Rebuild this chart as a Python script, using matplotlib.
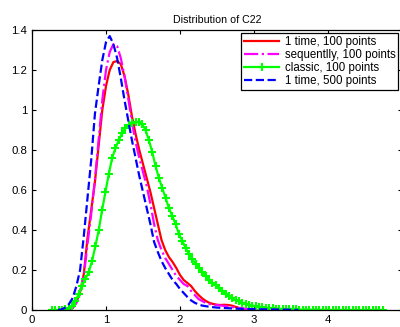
import numpy as np
import matplotlib
matplotlib.use("Agg")
import matplotlib.pyplot as plt

plt.rcParams['font.family'] = ['Liberation Sans', 'DejaVu Sans']

# 1 time, 100 points (red)
red_x = [0.50, 0.55, 0.60, 0.65, 0.70, 0.75, 0.80, 0.85, 0.90, 0.95, 1.00,
         1.05, 1.10, 1.15, 1.20, 1.25, 1.30, 1.35, 1.40, 1.45, 1.50, 1.55,
         1.60, 1.65, 1.70, 1.75, 1.80, 1.85, 1.90, 1.95, 2.00, 2.05, 2.10,
         2.15, 2.20, 2.25, 2.30, 2.35, 2.40, 2.45, 2.50, 2.55, 2.60, 2.65,
         2.70, 2.75, 2.80, 2.85, 2.90, 2.95, 3.00]
red_y = [0.0, 0.01, 0.04, 0.09, 0.18, 0.36, 0.50, 0.64, 0.82, 1.00, 1.12,
         1.20, 1.24, 1.245, 1.23, 1.17, 1.08, 0.97, 0.88, 0.80, 0.73, 0.66,
         0.59, 0.51, 0.43, 0.35, 0.30, 0.265, 0.24, 0.21, 0.175, 0.15, 0.135,
         0.12, 0.095, 0.075, 0.058, 0.045, 0.035, 0.03, 0.026, 0.025, 0.026, 0.025,
         0.022, 0.016, 0.01, 0.006, 0.003, 0.001, 0.0]

# sequentlly, 100 points (magenta)
mag_x = [0.50, 0.55, 0.60, 0.65, 0.70, 0.75, 0.80, 0.85, 0.90, 0.95, 1.00,
         1.05, 1.10, 1.15, 1.20, 1.25, 1.30, 1.35, 1.40, 1.45, 1.50, 1.55,
         1.60, 1.65, 1.70, 1.75, 1.80, 1.85, 1.90, 1.95, 2.00, 2.05, 2.10,
         2.15, 2.20, 2.25, 2.30, 2.35, 2.40, 2.50, 2.60, 2.70, 2.80, 2.90,
         3.00, 3.10]
mag_y = [0.0, 0.01, 0.035, 0.08, 0.17, 0.33, 0.48, 0.65, 0.85, 1.05, 1.20,
         1.29, 1.33, 1.32, 1.26, 1.17, 1.06, 0.94, 0.84, 0.76, 0.69, 0.62,
         0.53, 0.43, 0.35, 0.30, 0.26, 0.23, 0.20, 0.17, 0.15, 0.13, 0.12,
         0.095, 0.075, 0.055, 0.045, 0.035, 0.03, 0.025, 0.02, 0.015, 0.01, 0.005,
         0.002, 0.0]

# classic, 100 points (green, markers)
green_x = np.linspace(0.27, 4.74, 100)
green_y = [0.0, 0.0, 0.0, 0.001, 0.003, 0.008, 0.02, 0.045, 0.08, 0.12,
           0.155, 0.19, 0.245, 0.32, 0.40, 0.50, 0.59, 0.68, 0.76, 0.81,
           0.85, 0.885, 0.91, 0.925, 0.935, 0.94, 0.94, 0.93, 0.90, 0.85,
           0.79, 0.72, 0.66, 0.61, 0.56, 0.51, 0.47, 0.43, 0.38, 0.345,
           0.31, 0.28, 0.255, 0.23, 0.21, 0.19, 0.17, 0.15, 0.135, 0.125,
           0.11, 0.095, 0.082, 0.07, 0.06, 0.051, 0.044, 0.037, 0.031, 0.026,
           0.022, 0.018, 0.015, 0.013, 0.011, 0.009, 0.008, 0.007, 0.006, 0.005,
           0.004, 0.004, 0.003, 0.003, 0.002, 0.002, 0.002, 0.001, 0.001, 0.001,
           0.001, 0.001, 0.0, 0.0, 0.0, 0.0, 0.0, 0.0, 0.0, 0.0,
           0.0, 0.0, 0.0, 0.0, 0.0, 0.0, 0.0, 0.0, 0.0, 0.0]

# 1 time, 500 points (blue)
blue_x = [0.35, 0.40, 0.45, 0.50, 0.55, 0.60, 0.65, 0.70, 0.75, 0.80, 0.85,
          0.90, 0.95, 1.00, 1.05, 1.10, 1.15, 1.20, 1.25, 1.30, 1.35, 1.40,
          1.45, 1.50, 1.55, 1.60, 1.65, 1.70, 1.75, 1.80, 1.85, 1.90, 1.95,
          2.00, 2.05, 2.10, 2.15, 2.20, 2.25, 2.30, 2.40, 2.50, 2.60, 2.70,
          2.80, 2.90, 3.00, 3.20, 3.40, 3.60]
blue_y = [0.0, 0.003, 0.012, 0.03, 0.06, 0.12, 0.20, 0.37, 0.56, 0.75, 0.98,
          1.12, 1.25, 1.34, 1.37, 1.33, 1.26, 1.16, 1.05, 0.95, 0.85, 0.76,
          0.67, 0.59, 0.51, 0.43, 0.34, 0.29, 0.245, 0.21, 0.18, 0.15, 0.13,
          0.105, 0.085, 0.065, 0.048, 0.036, 0.028, 0.022, 0.016, 0.012, 0.01, 0.008,
          0.006, 0.005, 0.004, 0.003, 0.002, 0.0]

labels = ['1 time, 100 points', 'sequentlly, 100 points',
          'classic, 100 points', '1 time, 500 points']
xticks = [0, 1, 2, 3, 4]
yticks = [0, 0.2, 0.4, 0.6, 0.8, 1, 1.2, 1.4]
ytick_labels = ['0', '0.2', '0.4', '0.6', '0.8', '1', '1.2', '1.4']

fig = plt.figure(figsize=(4.0, 3.27), dpi=100)
ax = fig.add_axes([0.08, 0.052, 0.925, 0.856])

ax.plot(red_x, red_y, color='red', lw=1.6, label=labels[0])
ax.plot(mag_x, mag_y, color='magenta', lw=1.6, ls='-.', label=labels[1])
ax.plot(green_x, green_y, color=(0, 1, 0), lw=1.6, marker='+',
        markersize=6, markeredgewidth=1.5, label=labels[2])
ax.plot(blue_x, blue_y, color='blue', lw=1.6, ls='--', label=labels[3])

ax.set_xlim(0, 5)
ax.set_ylim(0, 1.4)
ax.set_xticks(xticks)
ax.set_xticklabels([str(t) for t in xticks])
ax.set_yticks(yticks)
ax.set_yticklabels(ytick_labels)
ax.tick_params(direction='in', top=True, right=True, labelsize=8.2, length=3, width=0.8)
for s in ax.spines.values():
    s.set_linewidth(0.9)

ax.set_title('Distribution of C22', fontsize=7.7, pad=5)

leg = ax.legend(loc='upper right', bbox_to_anchor=(0.99, 0.99), borderaxespad=0,
                fontsize=8.3, fancybox=False, framealpha=1, edgecolor='black',
                handlelength=3.0, handletextpad=0.5, borderpad=0.25,
                labelspacing=0.1, markerscale=1.0)
leg.get_frame().set_linewidth(0.9)

fig.savefig('out.png', dpi=100)
